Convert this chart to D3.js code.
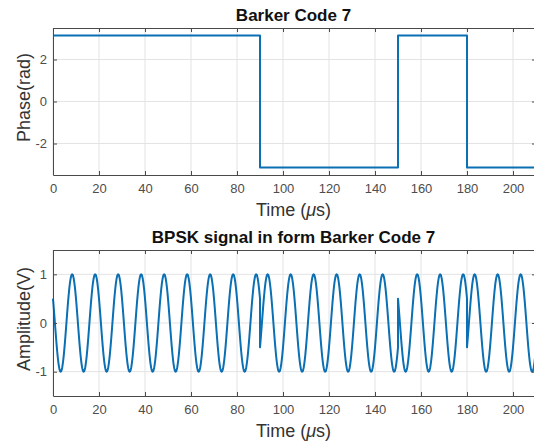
<!DOCTYPE html>
<html>
<head>
<meta charset="utf-8">
<script src="https://cdn.jsdelivr.net/npm/d3@7"></script>
<style>
  body { margin: 0; background: #fff; }
  svg { display: block; font-family: "Liberation Sans", Arial, Helvetica, sans-serif; }
</style>
</head>
<body>
<div id="chart"></div>
<script>
// Barker code 7 chips (+1 / -1), one chip every 30 us
const barkerCode = [1, 1, 1, -1, -1, 1, -1];
const chipWidth = 30;          // us
const carrierPeriod = 10;      // us
const carrierOffset = Math.PI / 3;

const timeDomain = [0, 210];
const xTicks = [0, 20, 40, 60, 80, 100, 120, 140, 160, 180, 200];
const phaseTicks = [-2, 0, 2];
const ampTicks = [-1, 0, 1];

const width = 534;
const height = 445;
const left = 53;
const right = 536;

const svg = d3.select("#chart")
    .append("svg")
    .attr("width", width)
    .attr("height", height);

// phase steps: start of each chip plus the end of the last one
const phaseData = barkerCode.map((c, i) => ({ t: i * chipWidth, v: c * Math.PI }));
phaseData.push({ t: barkerCode.length * chipWidth, v: phaseData[phaseData.length - 1].v });

// BPSK samples, each chip sampled on its own so the phase flip shows as a jump
const signalData = [];
barkerCode.forEach((c, i) => {
    for (let k = 0; k <= 300; k++) {
        const t = i * chipWidth + k * chipWidth / 300;
        signalData.push({ t: t, v: c * Math.cos(2 * Math.PI * t / carrierPeriod + carrierOffset) });
    }
});

const fmt = d => String(d);

function drawPanel(cfg) {
    const x = d3.scaleLinear().domain(timeDomain).range([left, right]);
    const y = d3.scaleLinear().domain(cfg.yDomain).range([cfg.bottom, cfg.top]);
    const g = svg.append("g");

    // grid
    g.selectAll(".gx").data(xTicks).enter().append("line")
        .attr("x1", d => x(d)).attr("x2", d => x(d))
        .attr("y1", cfg.top).attr("y2", cfg.bottom)
        .attr("stroke", "#e3e3e3").attr("stroke-width", 1);
    g.selectAll(".gy").data(cfg.yTicks).enter().append("line")
        .attr("x1", left).attr("x2", right)
        .attr("y1", d => y(d)).attr("y2", d => y(d))
        .attr("stroke", "#e3e3e3").attr("stroke-width", 1);

    // data line
    const line = d3.line().x(d => x(d.t)).y(d => y(d.v));
    if (cfg.step) line.curve(d3.curveStepAfter);
    g.append("path")
        .datum(cfg.data)
        .attr("fill", "none")
        .attr("stroke", "#0b6fb3")
        .attr("stroke-width", 2)
        .attr("stroke-linejoin", "round")
        .attr("d", line);

    // axes with inward ticks on all sides
    const bottomAxis = d3.axisBottom(x).tickValues(xTicks).tickFormat(fmt).tickSizeInner(-4).tickSizeOuter(0).tickPadding(9);
    const topAxis = d3.axisTop(x).tickValues(xTicks).tickSizeInner(-4).tickSizeOuter(0).tickFormat("");
    const leftAxis = d3.axisLeft(y).tickValues(cfg.yTicks).tickFormat(fmt).tickSizeInner(-4).tickSizeOuter(0).tickPadding(6);
    const rightAxis = d3.axisRight(y).tickValues(cfg.yTicks).tickSizeInner(-4).tickSizeOuter(0).tickFormat("");

    const axes = [
        g.append("g").attr("transform", `translate(0,${cfg.bottom})`).call(bottomAxis),
        g.append("g").attr("transform", `translate(0,${cfg.top})`).call(topAxis),
        g.append("g").attr("transform", `translate(${left},0)`).call(leftAxis),
        g.append("g").attr("transform", `translate(${right},0)`).call(rightAxis)
    ];
    axes.forEach(a => {
        a.select(".domain").attr("stroke", "#4a4a4a");
        a.selectAll(".tick line").attr("stroke", "#4a4a4a");
        a.selectAll("text")
            .attr("fill", "#4d4d4d")
            .style("font-size", "13px")
            .style("font-family", "'Liberation Sans', Arial, sans-serif");
    });

    // title
    g.append("text")
        .attr("x", (left + right) / 2 - 1)
        .attr("y", cfg.top - 7)
        .attr("text-anchor", "middle")
        .style("font-size", "17px")
        .style("font-weight", "bold")
        .attr("fill", "#111")
        .text(cfg.title);

    // x label
    const xl = g.append("text")
        .attr("x", (left + right) / 2 - 1)
        .attr("y", cfg.bottom + 41)
        .attr("text-anchor", "middle")
        .style("font-size", "18px")
        .attr("fill", "#333");
    xl.append("tspan").text("Time (");
    xl.append("tspan").style("font-style", "italic").text("\u03bc");
    xl.append("tspan").text("s)");

    // y label
    g.append("text")
        .attr("transform", `translate(30,${(cfg.top + cfg.bottom) / 2 - 4}) rotate(-90)`)
        .attr("text-anchor", "middle")
        .style("font-size", "18px")
        .attr("fill", "#333")
        .text(cfg.ylabel);
}

drawPanel({
    top: 28, bottom: 175,
    yDomain: [-3.5, 3.5], yTicks: phaseTicks,
    data: phaseData, step: true,
    title: "Barker Code 7", ylabel: "Phase(rad)"
});

drawPanel({
    top: 250, bottom: 396,
    yDomain: [-1.5, 1.5], yTicks: ampTicks,
    data: signalData, step: false,
    title: "BPSK signal in form Barker Code 7", ylabel: "Amplitude(V)"
});
</script>
</body>
</html>
